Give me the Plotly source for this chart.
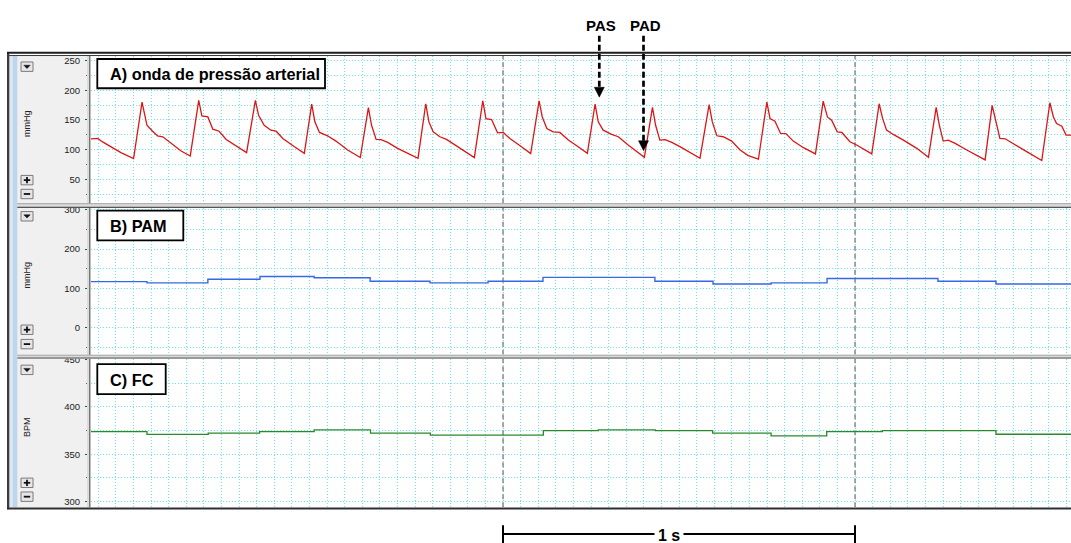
import plotly.graph_objects as go

W, H = 1071, 543
FONT = "Arial, Liberation Sans, sans-serif"
GRID = "#66e8f2"
GRID_DASH = "1px,2px"

# ---------------- data ----------------
# Arterial pressure wave: time (s) and pressure (mmHg)
wave_t = [0.000, 0.019, 0.033, 0.057, 0.085, 0.121, 0.145, 0.151, 0.159, 0.175,
          0.189, 0.204, 0.227, 0.256, 0.282, 0.306, 0.315, 0.332, 0.346, 0.364,
          0.384, 0.417, 0.442, 0.467, 0.476, 0.492, 0.511, 0.526, 0.545, 0.578,
          0.606, 0.627, 0.636, 0.649, 0.672, 0.696, 0.729, 0.765, 0.788, 0.797,
          0.810, 0.824, 0.843, 0.871, 0.900, 0.929, 0.951, 0.960, 0.972, 0.991,
          1.010, 1.043, 1.089, 1.113, 1.122, 1.138, 1.155, 1.171, 1.190, 1.219,
          1.249, 1.273, 1.282, 1.295, 1.313, 1.332, 1.356, 1.384, 1.410, 1.432,
          1.441, 1.455, 1.479, 1.498, 1.526, 1.572, 1.595, 1.604, 1.616, 1.631,
          1.650, 1.678, 1.707, 1.730, 1.756, 1.765, 1.778, 1.796, 1.820, 1.844,
          1.867, 1.896, 1.920, 1.929, 1.943, 1.959, 1.974, 1.995, 2.024, 2.058,
          2.080, 2.092, 2.104, 2.120, 2.133, 2.156, 2.175, 2.218, 2.239, 2.249,
          2.260, 2.279, 2.308, 2.346, 2.379, 2.401, 2.410, 2.421, 2.435, 2.455,
          2.488, 2.540, 2.560, 2.570, 2.582, 2.597, 2.620, 2.658, 2.701, 2.724,
          2.734, 2.743, 2.758, 2.770, 2.784]
wave_p = [118.0, 119.0, 113.0, 105.0, 95.0, 85.0, 180.0, 163.0, 141.0, 131.0,
          123.0, 121.7, 110.6, 97.8, 89.4, 183.0, 156.7, 155.0, 134.4, 131.0,
          117.0, 105.0, 95.0, 183.0, 157.8, 141.0, 132.8, 131.0, 118.9, 105.0,
          93.9, 176.7, 146.7, 128.9, 123.3, 114.4, 99.4, 86.7, 170.6, 141.0,
          117.2, 117.0, 112.2, 102.2, 93.9, 85.6, 177.2, 146.7, 130.0, 121.7,
          117.2, 105.0, 86.7, 182.2, 152.2, 150.6, 128.3, 128.9, 118.9, 106.7,
          93.3, 182.2, 155.0, 135.6, 130.0, 128.9, 116.1, 105.0, 93.9, 176.7,
          146.7, 132.8, 125.6, 121.7, 107.8, 87.2, 171.1, 141.0, 116.1, 117.0,
          112.2, 103.3, 93.9, 85.6, 175.6, 146.7, 123.3, 121.7, 114.4, 99.4,
          90.0, 83.9, 180.0, 152.2, 147.8, 127.2, 127.0, 114.4, 103.3, 92.8,
          181.7, 155.0, 149.4, 130.0, 128.9, 113.3, 107.8, 92.8, 177.2, 152.2,
          132.8, 125.6, 116.1, 102.2, 87.2, 171.1, 141.0, 114.4, 116.1, 110.6,
          99.4, 82.8, 174.4, 146.7, 118.9, 118.3, 110.6, 96.7, 81.7, 178.9,
          155.0, 143.9, 139.4, 124.4, 124.4]

# Mean arterial pressure (PAM, mmHg), one level per step
pam_t = [0.000, 0.159, 0.332, 0.480, 0.634, 0.793, 0.963, 1.128, 1.284, 1.602,
         1.767, 1.932, 2.091, 2.406, 2.571, 2.784]
pam_v = [117, 114, 123, 130, 127, 118, 114, 118, 128, 118, 111, 114, 125, 118, 111]

# Heart rate (FC, BPM), one level per step
fc_t = [0.000, 0.159, 0.333, 0.479, 0.634, 0.794, 0.964, 1.285, 1.441, 1.603,
        1.766, 1.932, 2.090, 2.248, 2.571, 2.784]
fc_v = [374, 371, 372.3, 374, 375.8, 372.3, 370.2, 375.1, 375.8, 375.1,
        372.3, 369.5, 374, 375.1, 371.2]

t_range = [0.0, 2.784]
marker_t = [1.1705, 2.1705]          # 1 s calibration markers

a_ticks, a_minor = [50, 100, 150, 200, 250], [25, 75, 125, 175, 225]
b_ticks, b_minor = [0, 100, 200, 300], [-50, 50, 150, 250]
c_ticks, c_minor = [300, 350, 400, 450], [325, 375, 425]

a_range = [10, 258.3]
b_range = [-68.8, 304]
c_range = [294, 451]


# ---------------- helpers (pixel -> paper) ----------------
def X(px):
    return px / W


def Y(py):
    return 1 - py / H


shapes = []
annotations = []


def rect(x0, y0, x1, y1, fill, line="rgba(0,0,0,0)", lw=0, layer="above"):
    shapes.append(dict(type="rect", xref="paper", yref="paper",
                       x0=X(x0), x1=X(x1), y0=Y(y1), y1=Y(y0),
                       fillcolor=fill, line=dict(color=line, width=lw), layer=layer))


def seg(x0, y0, x1, y1, color, lw, dash="solid", layer="above"):
    shapes.append(dict(type="line", xref="paper", yref="paper",
                       x0=X(x0), x1=X(x1), y0=Y(y0), y1=Y(y1),
                       line=dict(color=color, width=lw, dash=dash), layer=layer))


def tri_down(xc, ytop, ybot, half, color):
    shapes.append(dict(type="path", xref="paper", yref="paper",
                       path=f"M {X(xc-half)},{Y(ytop)} L {X(xc+half)},{Y(ytop)} L {X(xc)},{Y(ybot)} Z",
                       fillcolor=color, line=dict(color=color, width=0.5), layer="above"))


def text(x, y, s, size, bold=False, color="black", xanchor="center", angle=0, bg=None):
    annotations.append(dict(xref="paper", yref="paper", x=X(x), y=Y(y),
                            text=f"<b>{s}</b>" if bold else s, showarrow=False,
                            xanchor=xanchor, yanchor="middle", textangle=angle,
                            font=dict(family=FONT, size=size, color=color),
                            bgcolor=bg, borderpad=3 if bg else 0))


# ---------------- figure ----------------
fig = go.Figure()

panels = [("x", "y", a_range), ("x2", "y2", b_range), ("x3", "y3", c_range)]
for xa, ya, rng in panels:
    for mt in marker_t:
        fig.add_trace(go.Scatter(x=[mt, mt], y=rng, mode="lines", xaxis=xa, yaxis=ya,
                                 line=dict(color="#8a8a8a", width=1.5, dash="5px,3px"),
                                 hoverinfo="skip", showlegend=False))

fig.add_trace(go.Scatter(x=wave_t, y=wave_p, mode="lines", xaxis="x", yaxis="y",
                         line=dict(color="#dd1515", width=1.3), showlegend=False))
fig.add_trace(go.Scatter(x=pam_t, y=pam_v + [pam_v[-1]], mode="lines", xaxis="x2", yaxis="y2",
                         line=dict(color="#3568e6", width=1.4, shape="hv"), showlegend=False))
fig.add_trace(go.Scatter(x=fc_t, y=fc_v + [fc_v[-1]], mode="lines", xaxis="x3", yaxis="y3",
                         line=dict(color="#2a8a2a", width=1.3, shape="hv"), showlegend=False))

# panel vertical extents in pixels
a_px, b_px, c_px = (51, 200), (205, 353), (357, 507)


def xax(anchor):
    return dict(domain=[X(91), 1.0], range=t_range, anchor=anchor,
                showticklabels=False, ticks="", showline=False, zeroline=False,
                showgrid=True, gridcolor=GRID, griddash=GRID_DASH, gridwidth=1,
                tick0=marker_t[0], dtick=0.05, fixedrange=True)


def yax(px, rng, tv, minor):
    return dict(domain=[Y(px[1]), Y(px[0])], range=rng, anchor="free", position=X(87),
                tickmode="array", tickvals=tv, ticks="outside", ticklen=2, tickwidth=1,
                tickcolor="#444", ticklabelstandoff=3,
                tickfont=dict(family=FONT, size=9.5, color="#222"),
                showgrid=True, gridcolor=GRID, griddash=GRID_DASH, gridwidth=1,
                minor=dict(tickmode="array", tickvals=minor, ticks="outside", ticklen=1,
                           tickwidth=1, tickcolor="#666", showgrid=True, gridcolor=GRID,
                           griddash=GRID_DASH, gridwidth=1),
                zeroline=False, showline=False, fixedrange=True)


# ---------------- window chrome ----------------
# left control column
rect(9, 51, 87, 507, "#f0f0f0", layer="below")
rect(9.3, 51, 12.7, 507, "#dde7f2", layer="below")
rect(12.7, 51, 17.3, 507, "#bfd4ed", layer="below")
rect(7, 48, 9.3, 509, "#3c3c3c")
# divider between controls and plot area
rect(87, 51, 91, 507, "#dcdcdc")
seg(89.7, 51, 89.7, 507, "#666666", 1.1)
# outer frame
seg(7, 48.2, W, 48.2, "#1e1e1e", 1.8)
seg(9, 51, W, 51, "#3a3a3a", 1.0)
seg(7, 508.2, W, 508.2, "#2e2e2e", 2.0)
# separators between the three channels
for top, bot in [(200, 205), (353, 357)]:
    rect(17.3, top, W, bot, "#dadada")
    seg(17.3, bot - 0.7, W, bot - 0.7, "#555555", 1.2)
    seg(17.3, top + 0.5, W, top + 0.5, "#9a9a9a", 0.8)

# control buttons per channel: dropdown, zoom in, zoom out
for drop_y, plus_y, minus_y in [(57.5, 172, 186), (208.5, 323, 337.5), (363.5, 477.5, 491.5)]:
    for yy in (drop_y, plus_y, minus_y):
        rect(21, yy, 33, yy + 9.5, "#e6e6e6", "#7a7a7a", 1)
    tri_down(27, drop_y + 3.3, drop_y + 6.6, 3.2, "#111111")
    seg(23.8, plus_y + 4.75, 30.2, plus_y + 4.75, "#111111", 1.8)
    seg(27, plus_y + 1.6, 27, plus_y + 7.9, "#111111", 1.8)
    seg(23.8, minus_y + 4.75, 30.2, minus_y + 4.75, "#111111", 1.8)

# axis unit labels
text(27, 120, "mmHg", 9, angle=-90, color="#222")
text(27, 273, "mmHg", 9, angle=-90, color="#222")
text(27, 426, "BPM", 9, angle=-90, color="#222")

# channel title boxes
for (x0, y0, x1, y1), label in [((97.3, 54.5, 325, 84), "A) onda de pressão arterial"),
                                ((97.3, 207.5, 183.3, 237.5), "B) PAM"),
                                ((97.3, 362.5, 165.7, 392.7), "C) FC")]:
    rect(x0, y0, x1, y1, "white", "black", 1.8)
    text(109.3, (y0 + y1) / 2 + 0.8, label, 16.3, bold=True, xanchor="left")

# PAS / PAD markers
text(601, 20.5, "PAS", 15, bold=True)
text(645.7, 20.5, "PAD", 15, bold=True)
seg(599.3, 31, 599.3, 84, "black", 2.7, dash="6px,3px")
tri_down(599.3, 83, 93, 5, "black")
seg(643.5, 31, 643.5, 138, "black", 2.7, dash="6px,3px")
tri_down(643.5, 137, 147, 5, "black")

# 1 s scale bar
seg(503, 534, 855, 534, "black", 2)
seg(503, 525, 503, 543, "black", 2)
seg(855, 525, 855, 543, "black", 2)
text(669, 535, "1 s", 16, bold=True, bg="white")

fig.update_layout(
    width=W, height=H, autosize=False,
    margin=dict(l=0, r=0, t=0, b=0),
    paper_bgcolor="white", plot_bgcolor="white",
    showlegend=False,
    xaxis=xax("y"), xaxis2=xax("y2"), xaxis3=xax("y3"),
    yaxis=yax(a_px, a_range, a_ticks, a_minor),
    yaxis2=yax(b_px, b_range, b_ticks, b_minor),
    yaxis3=yax(c_px, c_range, c_ticks, c_minor),
    shapes=shapes, annotations=annotations,
    font=dict(family=FONT),
)

fig.write_html("out.html")
